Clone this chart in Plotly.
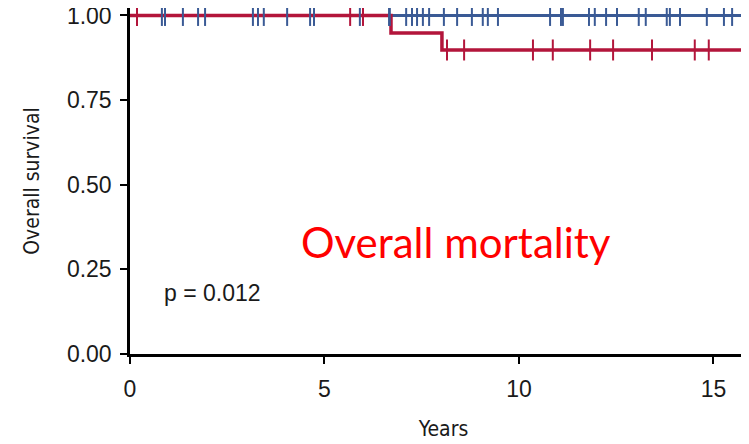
import plotly.graph_objects as go

# Kaplan-Meier step curves (years, survival)
blue_time = [0, 16.5]
blue_surv = [1.0, 1.0]
red_time = [0, 6.71, 8.02, 16.5]
red_surv = [1.0, 0.948, 0.898, 0.898]

# censor marks (years)
blue_censor = [0.82, 0.90, 1.36, 1.75, 1.93, 3.16, 3.29, 3.44, 4.04, 4.63, 4.73,
               5.91, 6.66, 6.68, 7.10, 7.25, 7.38, 7.53, 7.69, 8.07, 8.41, 8.79,
               9.07, 9.20, 9.46, 10.80, 11.08, 11.13, 11.80, 11.95, 12.24, 12.52,
               13.08, 13.26, 13.80, 13.88, 14.14, 14.83, 15.27, 15.48, 15.76]
red_censor_top = [0.18, 5.66, 5.99]
red_censor_low = [8.15, 8.59, 10.36, 10.87, 11.83, 12.42, 13.42, 14.52, 14.88]

x_ticks = [0, 5, 10, 15]
y_ticks = [0, 0.25, 0.5, 0.75, 1.0]
y_labels = ["0.00", "0.25", "0.50", "0.75", "1.00"]

BLUE = "#3a5a95"
RED = "#b3153b"

fig = go.Figure()
fig.add_trace(go.Scatter(x=blue_time, y=blue_surv, mode="lines", line_shape="hv",
                         line=dict(color=BLUE, width=3), cliponaxis=False))
fig.add_trace(go.Scatter(x=red_time, y=red_surv, mode="lines", line_shape="hv",
                         line=dict(color=RED, width=3.5), cliponaxis=False))
fig.add_trace(go.Scatter(x=red_censor_top, y=[1.0] * len(red_censor_top), mode="markers",
                         marker=dict(symbol="line-ns", size=15, line=dict(color=RED, width=2)),
                         cliponaxis=False))
fig.add_trace(go.Scatter(x=blue_censor, y=[1.0] * len(blue_censor), mode="markers",
                         marker=dict(symbol="line-ns", size=15, line=dict(color=BLUE, width=2)),
                         cliponaxis=False))
fig.add_trace(go.Scatter(x=red_censor_low, y=[0.898] * len(red_censor_low), mode="markers",
                         marker=dict(symbol="line-ns", size=15, line=dict(color=RED, width=2)),
                         cliponaxis=False))

tick_font = dict(family="Liberation Sans, Arial, sans-serif", size=23, color="#1a1a1a")
title_font_x = dict(family="DejaVu Sans Condensed, sans-serif", size=21, color="#1a1a1a")
title_font_y = dict(family="DejaVu Sans Condensed, sans-serif", size=21, color="#1a1a1a")

fig.update_layout(
    width=749, height=444,
    margin=dict(l=122, r=0, t=0, b=98),
    plot_bgcolor="white", paper_bgcolor="white",
    showlegend=False,
    xaxis=dict(range=[0, 16.12], tickvals=x_ticks, showgrid=False, zeroline=False,
               showline=True, linecolor="black", linewidth=2.5,
               ticks="outside", ticklen=7, tickwidth=2, tickcolor="black",
               tickfont=tick_font, ticklabelstandoff=6, automargin=False,
               title=dict(text="Years", font=title_font_x, standoff=20)),
    yaxis=dict(range=[0, 1.022], tickvals=y_ticks, ticktext=y_labels, showgrid=False,
               zeroline=False, showline=True, linecolor="black", linewidth=2.5,
               ticks="outside", ticklen=7, tickwidth=2, tickcolor="black",
               tickfont=tick_font, ticklabelstandoff=4, automargin=False,
               ticklabeloverflow="allow",
               title=dict(text="Overall survival", font=title_font_y, standoff=22)),
    annotations=[
        dict(x=8.39, y=0.33, xref="x", yref="y", text="Overall mortality",
             showarrow=False, font=dict(family="Lato, Open Sans, sans-serif", size=42, color="#ff0000")),
        dict(x=0.82, y=0.18, xref="x", yref="y", xanchor="left", text="p = 0.012",
             showarrow=False, font=dict(family="Liberation Sans, Arial, sans-serif", size=23, color="#1a1a1a")),
    ],
)

fig.write_html("out.html")
